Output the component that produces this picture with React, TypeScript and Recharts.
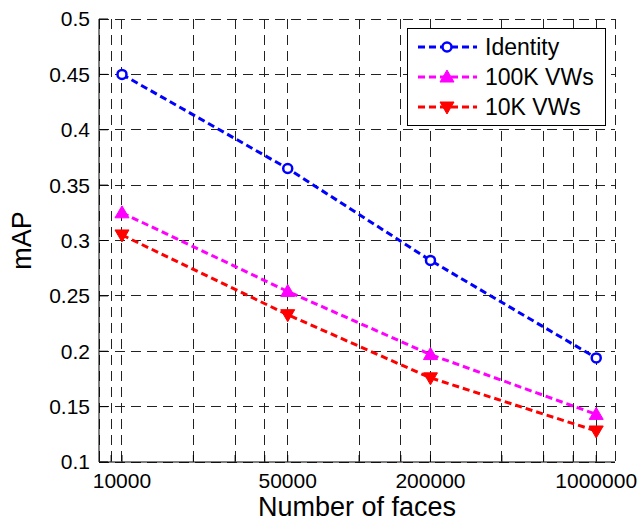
import React from 'react';
import { LineChart, Line, XAxis, YAxis, CartesianGrid, Legend } from 'recharts';

// number of faces in the database
const faces = [10000, 50000, 200000, 1000000];
// mAP per method
const identity = [0.45, 0.365, 0.282, 0.194];
const vw100k = [0.325, 0.254, 0.197, 0.143];
const vw10k = [0.305, 0.233, 0.176, 0.128];

const xTicks = [9000, 10000, 20000, 30000, 40000, 50000, 100000, 150000, 200000, 400000, 600000, 800000, 1000000];
const xLabels = [10000, 50000, 200000, 1000000];
const yTicks = [0.1, 0.15, 0.2, 0.25, 0.3, 0.35, 0.4, 0.45, 0.5];

const rows = faces.map((f, i) => ({
  faces: f,
  identity: identity[i],
  vw100k: vw100k[i],
  vw10k: vw10k[i],
}));

const series = [
  { key: 'identity', name: 'Identity', color: '#0000ff', marker: 'circle' },
  { key: 'vw100k', name: '100K VWs', color: '#ff00ff', marker: 'up' },
  { key: 'vw10k', name: '10K VWs', color: '#ff0000', marker: 'down' },
];

const Marker = ({ cx, cy, color, marker }: any) => {
  if (cx == null || cy == null) return null;
  if (marker === 'circle') {
    return <circle cx={cx} cy={cy} r={4.5} fill="#fff" stroke={color} strokeWidth={2.5} />;
  }
  if (marker === 'up') {
    const pts = `${cx},${cy - 7} ${cx - 7},${cy + 5} ${cx + 7},${cy + 5}`;
    return <polygon points={pts} fill={color} stroke={color} strokeWidth={1} />;
  }
  const pts = `${cx},${cy + 7} ${cx - 7},${cy - 5} ${cx + 7},${cy - 5}`;
  return <polygon points={pts} fill={color} stroke={color} strokeWidth={1} />;
};

const renderLegend = () => (
  <div style={{ width: 199, height: 98, border: '1px solid #000', background: '#fff', boxSizing: 'border-box' }}>
    <svg width={197} height={96}>
      {series.map((s, i) => {
        const y = 18 + i * 30;
        return (
          <g key={s.key}>
            <line x1={10} x2={69} y1={y} y2={y} stroke={s.color} strokeWidth={3} strokeDasharray="7 4" />
            <Marker cx={39} cy={y} color={s.color} marker={s.marker} />
            <text x={77} y={y + 8} fontSize={23} fill="#000">{s.name}</text>
          </g>
        );
      })}
    </svg>
  </div>
);

const fmtX = (v: number) => (xLabels.includes(v) ? String(v) : '');
const fmtY = (v: number) => String(+v.toFixed(2));

export default function App() {
  return (
    <div style={{ position: 'absolute', left: 0, top: 0, width: 641, height: 523, background: '#fff', fontFamily: '"Liberation Sans", Arial, sans-serif' }}>
      <LineChart width={641} height={523} data={rows} margin={{ top: 19, right: 26, bottom: 0, left: 0 }}>
        <CartesianGrid stroke="#222" strokeDasharray="10 6" strokeWidth={1} shapeRendering="crispEdges" />
        <XAxis
          dataKey="faces"
          type="number"
          scale="log"
          domain={[8000, 1200000]}
          allowDataOverflow
          ticks={xTicks}
          interval={0}
          tickFormatter={fmtX}
          height={61}
          tickSize={-7}
          tickMargin={18}
          axisLine={{ stroke: '#000' }}
          tickLine={{ stroke: '#000' }}
          tick={{ fill: '#000', fontSize: 21 }}
          label={{ value: 'Number of faces', position: 'insideBottom', offset: 7, fill: '#000', fontSize: 27 }}
        />
        <XAxis
          xAxisId="top"
          orientation="top"
          type="number"
          scale="log"
          domain={[8000, 1200000]}
          allowDataOverflow
          ticks={xTicks}
          interval={0}
          tickFormatter={() => ''}
          height={0}
          tickSize={-7}
          axisLine={{ stroke: '#000' }}
          tickLine={{ stroke: '#000' }}
        />
        <YAxis
          type="number"
          domain={[0.1, 0.5]}
          ticks={yTicks}
          interval={0}
          tickFormatter={fmtY}
          width={99}
          tickSize={-9}
          tickMargin={18}
          axisLine={{ stroke: '#000' }}
          tickLine={{ stroke: '#000' }}
          tick={{ fill: '#000', fontSize: 21 }}
          label={{ value: 'mAP', angle: -90, position: 'center', dx: -28, fill: '#000', fontSize: 27 }}
        />
        <YAxis
          yAxisId="right"
          orientation="right"
          type="number"
          domain={[0.1, 0.5]}
          ticks={yTicks}
          interval={0}
          tickFormatter={() => ''}
          width={0}
          tickSize={-9}
          axisLine={{ stroke: '#000' }}
          tickLine={{ stroke: '#000' }}
        />
        {series.map((s) => (
          <Line
            key={s.key}
            dataKey={s.key}
            name={s.name}
            stroke={s.color}
            strokeWidth={3}
            strokeDasharray="7 4"
            isAnimationActive={false}
            dot={(p: any) => <Marker key={p.index} cx={p.cx} cy={p.cy} color={s.color} marker={s.marker} />}
          />
        ))}
        <Legend
          layout="vertical"
          align="center"
          verticalAlign="middle"
          content={renderLegend}
          wrapperStyle={{ position: 'absolute', left: 407, top: 28, width: 199, height: 98 }}
        />
      </LineChart>
    </div>
  );
}
